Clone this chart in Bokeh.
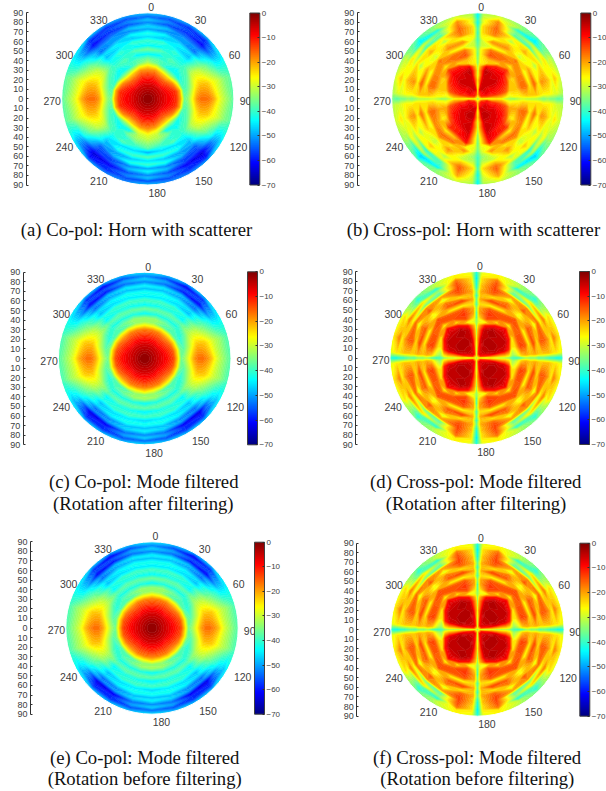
import numpy as np
from bokeh.embed import file_html
from bokeh.layouts import column, row
from bokeh.models import ColorBar, FixedTicker, Label, LinearColorMapper
from bokeh.plotting import figure
from bokeh.resources import INLINE

THETA = [0,5,10,15,20,25,30,34,38,42,47,52,56,61,65,69,73,76,80,83,86,90]
PHI_CO = [0,15,30,45,60,75,90,105,120,135,150,165,180]
PHI_X = [0,4,15,30,45,60,75,86,90,94,105,120,135,150,165,176,180]
ANGLE_LABELS = ["0","330","30","300","60","270","90","240","120","210","150","180"]
THETA_TICKS = list(range(-90,91,10))
DB_TICKS = [-70,-60,-50,-40,-30,-20,-10,0]

copol_a = [
[-1]*13,[-2]*13,[-4]*13,[-6]*13,
[-9,-9,-10,-11,-9,-8,-8,-8,-9,-11,-10,-9,-9],
[-13,-13,-15,-15,-12,-10,-9,-10,-12,-15,-15,-13,-13],
[-18,-18,-22,-23,-17,-12,-12,-12,-17,-23,-22,-18,-17],
[-24,-26,-32,-34,-27,-20,-20,-20,-27,-34,-32,-26,-22],
[-32,-36,-42,-42,-42,-38,-36,-38,-42,-42,-44,-30,-28],
[-36,-38,-40,-44,-40,-38,-34,-38,-40,-44,-36,-32,-30],
[-44,-44,-38,-40,-38,-32,-26,-32,-38,-40,-42,-36,-34],
[-36,-38,-42,-42,-31,-25,-18,-25,-31,-42,-38,-42,-38],
[-44,-44,-40,-44,-30,-22,-16,-22,-30,-44,-46,-46,-50],
[-40,-40,-46,-48,-31,-22,-16,-22,-31,-48,-42,-40,-38],
[-46,-48,-44,-46,-34,-23,-17,-23,-34,-48,-50,-48,-46],
[-42,-44,-50,-54,-36,-26,-20,-26,-36,-54,-48,-42,-40],
[-50,-52,-50,-52,-40,-28,-25,-28,-40,-56,-56,-52,-50],
[-46,-48,-54,-56,-42,-30,-28,-30,-42,-58,-56,-48,-44],
[-52,-56,-58,-62,-46,-33,-31,-33,-48,-64,-62,-56,-52],
[-48,-52,-56,-58,-46,-35,-33,-35,-48,-62,-58,-52,-48],
[-54,-56,-58,-58,-46,-36,-35,-36,-48,-60,-58,-56,-56],
[-48,-50,-50,-48,-44,-38,-38,-38,-44,-50,-52,-52,-48]]

copol_c = [
[-1]*13,[-2]*13,[-4]*13,[-6]*13,
[-9,-9,-9,-10,-9,-8,-8,-8,-9,-10,-9,-9,-9],
[-13,-13,-13,-13,-12,-11,-10,-11,-12,-13,-13,-13,-12],
[-17,-17,-17,-18,-16,-14,-13,-14,-16,-18,-17,-17,-17],
[-25,-26,-25,-25,-24,-23,-23,-23,-24,-25,-25,-26,-24],
[-33,-34,-38,-38,-38,-36,-36,-36,-38,-38,-38,-34,-34],
[-33,-33,-36,-38,-42,-38,-33,-38,-42,-38,-36,-33,-32],
[-44,-42,-42,-42,-38,-32,-26,-32,-38,-42,-42,-42,-44],
[-36,-37,-37,-38,-32,-26,-19,-26,-32,-38,-37,-37,-37],
[-44,-43,-42,-44,-31,-22,-16,-22,-31,-44,-42,-43,-45],
[-39,-39,-40,-42,-32,-22,-16,-22,-32,-42,-40,-39,-39],
[-45,-45,-46,-48,-35,-23,-18,-23,-35,-48,-46,-45,-47],
[-42,-42,-44,-46,-37,-26,-21,-26,-37,-46,-44,-42,-42],
[-48,-48,-50,-54,-40,-29,-26,-29,-40,-54,-52,-48,-48],
[-44,-45,-48,-52,-42,-31,-29,-31,-42,-52,-50,-46,-44],
[-52,-54,-60,-62,-46,-33,-32,-33,-46,-64,-62,-54,-52],
[-47,-50,-56,-56,-46,-35,-34,-35,-46,-60,-58,-50,-47],
[-52,-56,-62,-58,-46,-37,-36,-37,-48,-58,-58,-56,-54],
[-46,-48,-50,-48,-44,-39,-38,-39,-44,-48,-48,-48,-46]]

# (e) reads the same as (c) within what the picture allows
copol_e = copol_c

crosspol_b = [
[-35]*17,
[-34,-30,-18,-12,-10,-14,-22,-30,-34,-30,-22,-14,-10,-12,-18,-30,-34],
[-36,-26,-6,-6,-7,-7,-14,-28,-36,-26,-10,-7,-6,-6,-6,-26,-36],
[-34,-24,-5,-5,-8,-8,-12,-24,-32,-24,-12,-8,-7,-5,-5,-24,-34],
[-32,-20,-6,-5,-6,-8,-11,-22,-30,-22,-11,-7,-6,-4,-4,-20,-32],
[-34,-22,-5,-6,-5,-9,-12,-22,-30,-22,-12,-9,-6,-6,-6,-22,-34],
[-36,-20,-4,-6,-7,-10,-14,-26,-32,-26,-14,-10,-8,-6,-5,-20,-36],
[-34,-22,-7,-8,-8,-12,-22,-28,-34,-28,-20,-14,-10,-7,-5,-22,-34],
[-36,-26,-24,-10,-9,-22,-22,-26,-36,-26,-20,-24,-12,-10,-6,-24,-36],
[-36,-26,-22,-24,-12,-24,-22,-26,-32,-26,-20,-26,-12,-10,-7,-26,-36],
[-38,-26,-14,-16,-26,-18,-16,-24,-30,-24,-16,-20,-26,-22,-9,-26,-38],
[-36,-26,-16,-16,-18,-18,-16,-22,-32,-24,-16,-18,-16,-16,-26,-28,-36],
[-38,-30,-28,-26,-16,-28,-26,-22,-32,-24,-26,-28,-18,-26,-18,-30,-38],
[-40,-30,-18,-18,-30,-20,-15,-22,-32,-24,-16,-22,-30,-18,-28,-34,-40],
[-40,-26,-28,-22,-28,-26,-26,-24,-34,-24,-26,-26,-30,-22,-30,-32,-40],
[-42,-24,-17,-32,-20,-32,-18,-26,-36,-26,-18,-32,-22,-32,-22,-28,-42],
[-40,-24,-16,-26,-24,-24,-20,-26,-34,-26,-20,-26,-26,-28,-16,-24,-40],
[-42,-24,-15,-38,-40,-30,-22,-26,-36,-26,-24,-32,-42,-38,-15,-26,-42],
[-44,-28,-17,-36,-30,-24,-28,-28,-36,-28,-28,-26,-32,-40,-18,-28,-44],
[-42,-28,-18,-42,-44,-32,-22,-28,-38,-30,-24,-34,-46,-44,-20,-30,-42],
[-44,-30,-26,-32,-44,-30,-26,-30,-38,-30,-28,-32,-46,-34,-26,-30,-44],
[-44,-32,-30,-34,-38,-34,-30,-32,-36,-32,-30,-34,-38,-34,-30,-32,-44]]

# one quadrant, phi = 0,4,15,30,45,60,75,86,90; the panel is mirrored about phi = 90
crosspol_d_quadrant = [
[-35]*9,
[-36,-34,-22,-10,-7,-10,-22,-34,-36],
[-38,-30,-11,-5,-5,-5,-11,-30,-40],
[-36,-24,-7,-4,-4,-4,-7,-24,-40],
[-34,-20,-5,-3,-3,-3,-5,-24,-38],
[-36,-20,-5,-4,-4,-4,-6,-24,-36],
[-38,-20,-5,-3,-4,-4,-6,-24,-34],
[-36,-22,-9,-4,-5,-4,-10,-26,-36],
[-34,-28,-27,-9,-6,-9,-28,-34,-40],
[-40,-24,-14,-26,-8,-26,-24,-30,-42],
[-42,-20,-12,-14,-27,-15,-13,-22,-40],
[-36,-20,-14,-14,-14,-15,-14,-20,-34],
[-40,-24,-27,-26,-13,-27,-26,-22,-36],
[-38,-20,-13,-15,-28,-15,-13,-20,-36],
[-42,-22,-26,-17,-26,-17,-25,-22,-40],
[-38,-20,-15,-30,-14,-30,-14,-22,-38],
[-42,-22,-13,-20,-18,-16,-15,-22,-40],
[-44,-22,-13,-38,-36,-28,-18,-22,-42],
[-44,-24,-14,-34,-24,-17,-26,-24,-42],
[-46,-24,-16,-42,-38,-28,-17,-24,-44],
[-44,-26,-25,-30,-42,-24,-22,-26,-44],
[-42,-28,-26,-32,-36,-30,-26,-28,-42]]
crosspol_d = [r + r[-2::-1] for r in crosspol_d_quadrant]
# (f) reads the same as (d) within what the picture allows
crosspol_f = crosspol_d

CAP_FONT = "Liberation Serif"
CAP_SIZE = "18.7px"
SANS = "Liberation Sans"
INK = "#404040"
OFFS = [(3.4,-91.8),(-49,-79.2),(52.7,-79.2),(-83.3,-44.2),(86.7,-44.2),(-95.6,2.2),
        (97.7,2.5),(-83.3,48.5),(90.7,48.5),(-49,82.5),(56,82.5),(9.4,94.2)]


def jet(t):
    r = np.clip(1.5-abs(4*t-3),0,1); g = np.clip(1.5-abs(4*t-2),0,1); b = np.clip(1.5-abs(4*t-1),0,1)
    return "#%02x%02x%02x" % (int(r*255),int(g*255),int(b*255))


LEVELS = list(np.arange(-70,0.1,1.0))
FILL = [jet((l+0.5+70)/70) for l in LEVELS[:-1]]
LINE = [jet((l+70)/70) for l in LEVELS]
MAPPER = LinearColorMapper(palette=[jet(i/255) for i in range(256)],low=-70,high=0)


def panel(table, phi_half, caps, slot, spine, cx, top, bottom, cbar_x):
    sl, st, sr, sb = slot
    fh = bottom-top
    scale = fh/180
    cy = (top+bottom)/2
    dx = lambda px: (px-cx)/scale
    dy = lambda py: (cy-py)/scale
    p = figure(width=sr-sl, height=sb-st, output_backend="svg", toolbar_location=None,
               x_range=(dx(sl),dx(sr)), y_range=(dy(sb),dy(st)), tools="",
               min_border=0, outline_line_color=None, background_fill_color="white")
    p.grid.visible = False
    p.xaxis.visible = False
    ax = p.yaxis[0]
    ax.fixed_location = dx(spine)
    ax.bounds = (-90,90)
    ax.ticker = FixedTicker(ticks=THETA_TICKS)
    ax.major_label_overrides = {t: str(abs(t)) for t in THETA_TICKS}
    ax.major_label_text_font = SANS
    ax.major_label_text_font_size = "9px"
    ax.major_label_text_color = INK
    ax.major_label_standoff = 3
    ax.major_tick_in = 2
    ax.major_tick_out = 0
    ax.minor_tick_line_color = None
    ax.axis_line_color = "#303030"
    ax.major_tick_line_color = "#303030"

    tb = np.array(table,dtype=float)
    phi = np.array(phi_half,dtype=float)
    phi_full = np.concatenate([phi,360-phi[-2::-1]])
    z = np.concatenate([tb,tb[:,-2::-1]],axis=1)
    th = np.array(THETA+[96],dtype=float)
    z = np.vstack([z,z[-1:]])
    R,P = np.meshgrid(th,np.radians(phi_full),indexing="ij")
    p.contour(R*np.sin(P),R*np.cos(P),z,LEVELS,fill_color=FILL,line_color=LINE,line_width=0.8)
    p.annulus(x=[0],y=[0],inner_radius=90,outer_radius=100,fill_color="white",line_color="white")

    for txt,(ox,oy) in zip(ANGLE_LABELS,OFFS):
        p.add_layout(Label(x=ox/scale,y=-oy/scale,text=txt,text_font=SANS,text_font_size="10.5px",
                           text_color=INK,text_align="center",text_baseline="middle"))
    for txt,mx,my in caps:
        p.add_layout(Label(x=dx(mx),y=dy(my),text=txt,text_font=CAP_FONT,text_font_size=CAP_SIZE,
                           text_color="#111111",text_align="center",text_baseline="middle"))
    cb = ColorBar(color_mapper=MAPPER,ticker=FixedTicker(ticks=DB_TICKS),location=(cbar_x-sl,sb-bottom),
                  width=10,height=round(fh),padding=0,margin=0,
                  major_label_text_font=SANS,major_label_text_font_size="8px",major_label_text_color=INK,
                  major_tick_line_color="#303030",major_tick_in=2,major_tick_out=0,
                  bar_line_color="#404040",label_standoff=2,background_fill_color=None,border_line_color=None)
    p.add_layout(cb,"center")
    return p


pa = panel(copol_a,PHI_CO,[("(a) Co-pol: Horn with scatterer",136,229)],(0,0,303,250),25.7,147.3,12.3,184.5,249.3)
pb = panel(crosspol_b,PHI_X,[("(b) Cross-pol: Horn with scatterer",473,228.7)],(303,0,606,250),356.7,477.3,12.3,184.5,580.3)
pc = panel(copol_c,PHI_CO,[("(c) Co-pol: Mode filtered",143.3,481),("(Rotation after filtering)",142.8,503.3)],(0,250,303,522),22.7,144.2,271.7,444.3,247)
pd_ = panel(crosspol_d,PHI_X,[("(d) Cross-pol: Mode filtered",475.2,481),("(Rotation after filtering)",475.5,503.3)],(303,250,606,522),355.3,476,271,444,579)
pe = panel(copol_e,PHI_CO,[("(e) Co-pol: Mode filtered",144.2,756.7),("(Rotation before filtering)",144.2,778.3)],(0,522,303,791),30,151.5,541.3,713.7,254)
pf = panel(crosspol_f,PHI_X,[("(f) Cross-pol: Mode filtered",476.5,756.7),("(Rotation before filtering)",476.8,778)],(303,522,606,791),356.3,477,542.5,715.7,579.3)

layout = column(row(pa,pb,spacing=0),row(pc,pd_,spacing=0),row(pe,pf,spacing=0),spacing=0)
open("out.html","w").write(file_html(layout,INLINE))
